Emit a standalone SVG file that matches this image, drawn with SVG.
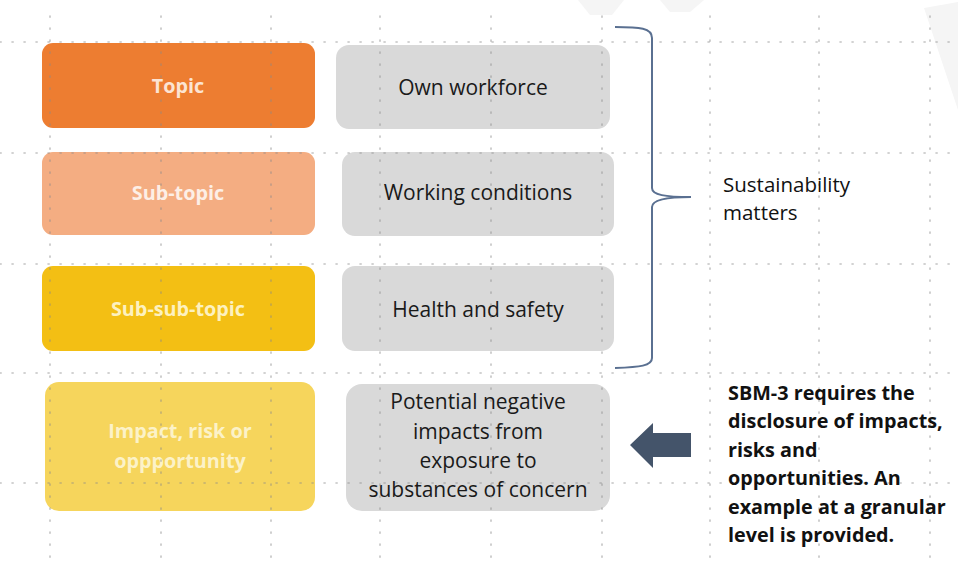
<svg xmlns="http://www.w3.org/2000/svg" width="958" height="567" viewBox="0 0 958 567">
<style>
  .lbl { font-family: "Open Sans", "Liberation Sans", sans-serif; font-size: 21px; text-anchor: middle; }
  .lw { font-weight: bold; font-size: 19.8px; }
  .dk { fill: #1a1a1a; }
  .grid line { stroke: #8a8a8a; stroke-width: 1.6; stroke-dasharray: 1.2 10.8; stroke-linecap: round; opacity: 0.5; }
  .note { font-family: "Open Sans", "Liberation Sans", sans-serif; font-size: 20.5px; fill: #111; }
  .nb { font-size: 19.8px; font-weight: bold; }
</style>
<rect width="958" height="567" fill="#ffffff"/>
<g id="watermark" fill="#f5f5f5">
  <polygon points="578,0 624,0 612,15 590,15"/>
  <polygon points="660,0 704,0 690,12 670,12"/>
  <polygon points="924,8 958,2 958,110"/>
</g>
<g id="n-topic"><rect x="42" y="43" width="273" height="85" rx="11" fill="#ED7D31"/><text class="lbl lw" x="178" y="93" fill="#FCE4D2">Topic</text></g>
<g id="n-subtopic"><rect x="42" y="152" width="273" height="83" rx="11" fill="#F4AD82"/><text class="lbl lw" x="178" y="200" fill="#FDEFE6">Sub-topic</text></g>
<g id="n-subsubtopic"><rect x="42" y="266" width="273" height="85" rx="11" fill="#F3BF14"/><text class="lbl lw" x="178" y="316" fill="#FDF1BF">Sub-sub-topic</text></g>
<g id="n-impact"><rect x="45" y="382" width="270" height="129" rx="14" fill="#F6D55C"/><text class="lbl lw" x="180" y="438" fill="#FCF2C8">Impact, risk or</text><text class="lbl lw" x="180" y="468" fill="#FCF2C8">oppportunity</text></g>
<g id="n-own"><rect x="336" y="45" width="274" height="84" rx="13" fill="#D9D9D9"/><text class="lbl dk" x="473" y="95">Own workforce</text></g>
<g id="n-working"><rect x="342" y="152" width="272" height="84" rx="13" fill="#D9D9D9"/><text class="lbl dk" x="478" y="200">Working conditions</text></g>
<g id="n-health"><rect x="342" y="266" width="272" height="85" rx="13" fill="#D9D9D9"/><text class="lbl dk" x="478" y="317">Health and safety</text></g>
<g id="n-potential"><rect x="346" y="384" width="264" height="127" rx="16" fill="#D9D9D9"/>
  <text class="lbl dk" x="478" y="409">Potential negative</text>
  <text class="lbl dk" x="478" y="439">impacts from</text>
  <text class="lbl dk" x="478" y="468">exposure to</text>
  <text class="lbl dk" x="478" y="497">substances of concern</text>
</g>
<g class="grid">
  <line x1="0" y1="42" x2="958" y2="42"/>
  <line x1="0" y1="153" x2="958" y2="153"/>
  <line x1="0" y1="264" x2="958" y2="264"/>
  <line x1="0" y1="373" x2="958" y2="373"/>
  <line x1="0" y1="483" x2="958" y2="483"/>
  <line x1="50" y1="16" x2="50" y2="567"/>
  <line x1="161" y1="16" x2="161" y2="567"/>
  <line x1="271" y1="16" x2="271" y2="567"/>
  <line x1="380" y1="16" x2="380" y2="567"/>
  <line x1="491" y1="16" x2="491" y2="567"/>
  <line x1="602" y1="16" x2="602" y2="567"/>
  <line x1="710" y1="16" x2="710" y2="567"/>
  <line x1="819" y1="16" x2="819" y2="567"/>
  <line x1="930" y1="16" x2="930" y2="567"/>
</g>
<g id="connectors">
  <path d="M615,27 C640,27 652,28 652,38 L652,188 C652,195 665,197 691,197 C665,197 652,200 652,207 L652,358 C652,366 640,367 615,368" fill="none" stroke="#5A7091" stroke-width="2"/>
  <polygon points="630,445 653,423 653,433 691,433 691,457 653,457 653,468" fill="#44546A"/>
</g>
<g id="n-sustainability">
  <text class="note" x="723" y="192">Sustainability</text>
  <text class="note" x="723" y="220">matters</text>
</g>
<g id="n-note">
  <text class="note nb" x="728" y="400">SBM-3 requires the</text>
  <text class="note nb" x="728" y="428">disclosure of impacts,</text>
  <text class="note nb" x="728" y="457">risks and</text>
  <text class="note nb" x="728" y="485">opportunities. An</text>
  <text class="note nb" x="728" y="514">example at a granular</text>
  <text class="note nb" x="728" y="542">level is provided.</text>
</g>
</svg>
